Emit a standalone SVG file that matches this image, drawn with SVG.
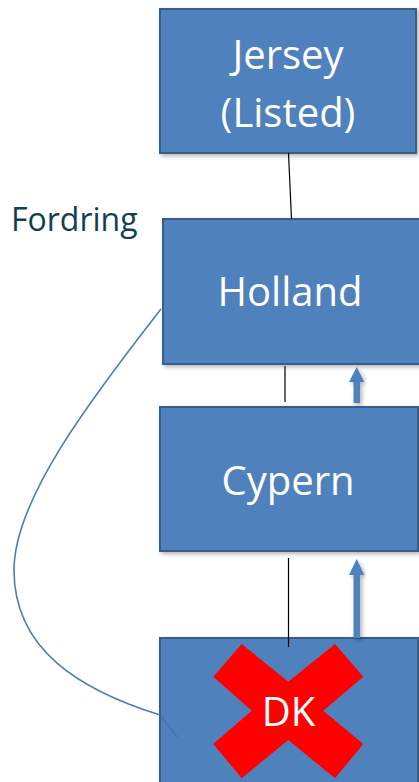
<svg xmlns="http://www.w3.org/2000/svg" width="419" height="782" viewBox="0 0 419 782">
<style>
.box{fill:#4f81bd;stroke:#385d8a;stroke-width:2;filter:url(#sh)}
.lbl{font-family:"Open Sans","Liberation Sans",sans-serif;font-size:40px;fill:#ffffff;text-anchor:middle}
.thin{stroke:#000;stroke-width:1.2;fill:none}
.arr{fill:#4f81bd;filter:url(#sh)}
</style>
<defs>
<filter id="sh" x="-10%" y="-10%" width="120%" height="120%">
<feDropShadow dx="2" dy="2" stdDeviation="2" flood-color="#000" flood-opacity="0.3"/>
</filter>
</defs>
<rect width="419" height="782" fill="#ffffff"/>
<text x="11" y="231" font-family="'Open Sans','Liberation Sans',sans-serif" font-size="32" fill="#133f55">Fordring</text>
<g id="jersey"><rect class="box" x="160" y="9" width="256" height="144"/><text class="lbl" x="288" y="69">Jersey</text><text class="lbl" x="288" y="127">(Listed)</text></g>
<g id="holland"><rect class="box" x="163" y="219" width="260" height="145"/><text class="lbl" x="290" y="306">Holland</text></g>
<g id="cypern"><rect class="box" x="160" y="407" width="258" height="144"/><text class="lbl" x="288" y="495">Cypern</text></g>
<g id="dk"><rect class="box" x="160" y="638" width="258" height="150"/>
<polygon fill="#ff0000" points="213.3,676.7 241.7,644 288.3,681.7 335,644 363.3,676.7 323.3,710.7 363.3,744 335,778.3 288.3,740 241.7,778.3 213.3,744 251.7,710.7"/>
<text class="lbl" x="288.5" y="726" font-size="38">DK</text></g>
<g id="connectors">
<line class="thin" x1="288.5" y1="153" x2="291.5" y2="219"/>
<line class="thin" x1="285" y1="366" x2="285" y2="402"/>
<line class="thin" x1="288.5" y1="558" x2="288.5" y2="647"/>
<polygon class="arr" points="353.5,403 353.5,382 349,382 356.7,367 364.3,382 360,382 360,403"/>
<polygon class="arr" points="353.5,638 353.5,575 349,575 356.7,559 364.3,575 360,575 360,638"/>
<path d="M161,309 C90,400 14,500 14,570 C14,650 80,690 160,715" fill="none" stroke="#4a7ebb" stroke-width="1.6"/>
<path d="M160,715 L177,737" fill="none" stroke="#3d6a9e" stroke-width="2" opacity="0.5"/>
</g>
</svg>
